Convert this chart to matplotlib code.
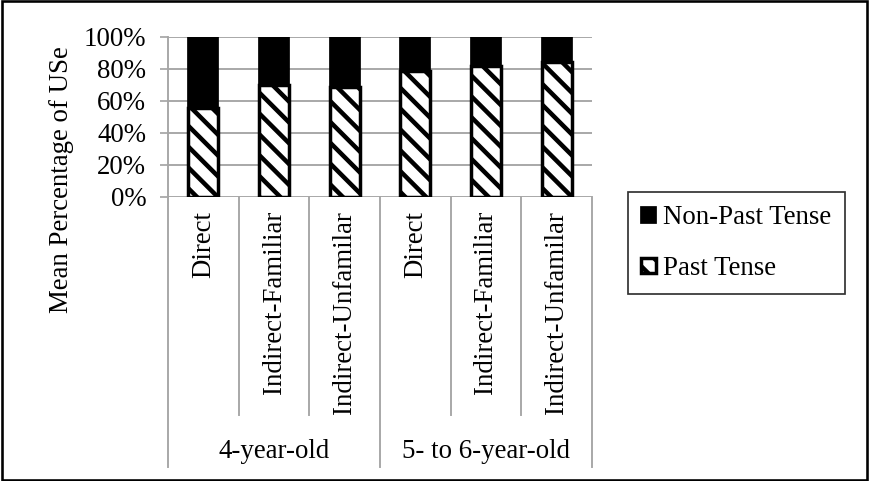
import numpy as np
import matplotlib.pyplot as plt
from matplotlib.patches import Rectangle
from matplotlib.transforms import blended_transform_factory

# data
conditions = ['Direct', 'Indirect-Familiar', 'Indirect-Unfamilar',
              'Direct', 'Indirect-Familiar', 'Indirect-Unfamilar']
groups = ['4-year-old', '5- to 6-year-old']
past_tense = [0.556, 0.700, 0.689, 0.788, 0.820, 0.842]
non_past_tense = [1 - v for v in past_tense]
y_ticks = [0, 0.2, 0.4, 0.6, 0.8, 1.0]
y_tick_labels = ['0%', '20%', '40%', '60%', '80%', '100%']

DPI = 125
W, H = 869, 481
plt.rcParams['font.family'] = ['Liberation Serif', 'DejaVu Serif']
plt.rcParams['hatch.linewidth'] = 2.6
plt.rcParams['hatch.color'] = 'black'
FS = 15.5
GRID = '#a6a6a6'

fig = plt.figure(figsize=(W / DPI, H / DPI), dpi=DPI)
# axes box in pixels: x 168..592, y 37..197 (from top)
ax = fig.add_axes([168 / W, 1 - 197 / H, (592 - 168) / W, (197 - 37) / H])

x = np.arange(len(conditions))
bw = 0.42
ax.bar(x, past_tense, bw, color='white', edgecolor='black', hatch='\\\\',
       linewidth=2.0, label='Past Tense', zorder=3)
ax.bar(x, non_past_tense, bw, bottom=past_tense, color='black', edgecolor='black',
       linewidth=1.0, label='Non-Past Tense', zorder=3)

ax.set_xlim(-0.5, 5.5)
ax.set_ylim(0, 1)
ax.set_yticks(y_ticks)
ax.set_yticklabels(y_tick_labels, fontsize=FS)
ax.set_xticks([])
ax.tick_params(axis='y', length=4.6, width=1, color=GRID, pad=8)
for yv in y_ticks:
    ax.axhline(yv, color=GRID, lw=1.1, zorder=1)
for s in ['top', 'right', 'bottom']:
    ax.spines[s].set_visible(False)
ax.spines['left'].set_color(GRID)
ax.spines['left'].set_linewidth(1.1)

# category axis drawn below the plot
tr = blended_transform_factory(ax.transData, ax.transAxes)
px = 1.0 / 160  # one pixel in axes fraction (vertical)
inner_bottom = -(415 - 197) * px
outer_bottom = -(467 - 197) * px
for b in np.arange(-0.5, 6.0, 1.0):
    low = outer_bottom if b in (-0.5, 2.5, 5.5) else inner_bottom
    ax.plot([b, b], [0, low], color=GRID, lw=1.1, transform=tr, clip_on=False)
for xi, lab in zip(x, conditions):
    ax.text(xi, -(211 - 197) * px, lab, rotation=90, ha='center', va='top',
            fontsize=FS, transform=tr)
for gi, g in enumerate(groups):
    ax.text(1 + 3 * gi, -(452 - 197) * px, g, ha='center', va='center',
            fontsize=FS, transform=tr)

fig.text(62 / W, 1 - 180 / H, 'Mean Percentage of USe', rotation=90,
         ha='center', va='center', fontsize=FS)

handles, labels = ax.get_legend_handles_labels()
leg = fig.legend(handles[::-1], labels[::-1], loc='upper left',
                 bbox_to_anchor=(628 / W, 1 - 192 / H),
                 prop={'family': 'Liberation Serif', 'size': FS},
                 frameon=True, fancybox=False, edgecolor='black',
                 handlelength=0.55, handleheight=0.5, handletextpad=0.25,
                 labelspacing=0.95, borderpad=0.5, borderaxespad=0)
leg.get_frame().set_linewidth(1.0)

# outer frame around the whole picture
fig.patches.append(Rectangle((0.002, 0.003), 0.996, 0.994, transform=fig.transFigure,
                             fill=False, edgecolor='black', lw=1.5))

fig.savefig('out.png', dpi=DPI)
